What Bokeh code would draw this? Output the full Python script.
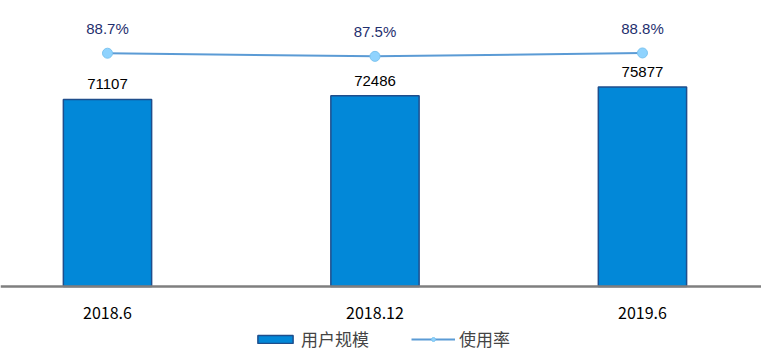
from bokeh.plotting import figure
from bokeh.models import Range1d, ColumnDataSource, Legend, LegendItem
from bokeh.core.properties import value
from bokeh.embed import file_html
from bokeh.resources import INLINE

categories = ["2018.6", "2018.12", "2019.6"]
users = [71107, 72486, 75877]
usage_rate = [88.7, 87.5, 88.8]
user_labels = ["71107", "72486", "75877"]
rate_labels = ["88.7%", "87.5%", "88.8%"]

xs = list(range(len(categories)))
src = ColumnDataSource(dict(x=xs, users=users, rate=usage_rate,
                            ul=user_labels, rl=rate_labels))

p = figure(width=761, height=353, output_backend="svg",
           toolbar_location=None,
           x_range=Range1d(-0.4, 2.445), y_range=Range1d(-25475, 108745),
           min_border_left=0, min_border_right=0, min_border_top=0,
           min_border_bottom=0, outline_line_color=None)
p.extra_y_ranges = {"pct": Range1d(-25.475, 108.745)}
p.grid.visible = False
p.yaxis.visible = False

ax = p.xaxis[0]
ax.fixed_location = 0
ax.ticker = xs
ax.major_label_overrides = {i: c for i, c in enumerate(categories)}
ax.axis_line_color = "#7f7f7f"
ax.axis_line_width = 2.5
ax.major_tick_line_color = None
ax.minor_tick_line_color = None
ax.major_label_standoff = 14
ax.major_label_text_font = "Noto Sans CJK SC"
ax.major_label_text_font_size = "16px"
ax.major_label_text_color = "#000000"

bars = p.vbar(x="x", top="users", width=0.33, source=src,
              fill_color="#0288d8", line_color="#1f4e8c", line_width=1.5)
p.text(x="x", y="users", text="ul", source=src, y_offset=-10,
       text_align="center", text_baseline="bottom",
       text_font=value("Liberation Sans"), text_font_size="15px",
       text_color="#000000")

ln = p.line(x="x", y="rate", source=src, y_range_name="pct",
            line_color="#5b9bd5", line_width=2)
pts = p.scatter(x="x", y="rate", source=src, y_range_name="pct", size=10,
                fill_color="#8fd3fe", line_color="#7cc4f0", line_width=1)
p.text(x="x", y="rate", text="rl", source=src, y_range_name="pct",
       y_offset=-16, text_align="center", text_baseline="bottom",
       text_font=value("Liberation Sans"), text_font_size="15px",
       text_color="#1f2f6e")

legend = Legend(items=[LegendItem(label="用户规模", renderers=[bars]),
                       LegendItem(label="使用率", renderers=[ln, pts])],
                orientation="horizontal", location=(253, 2),
                border_line_color=None, background_fill_alpha=0,
                label_text_font="Noto Sans CJK SC", label_text_font_size="17px",
                glyph_width=44, glyph_height=10, label_height=20,
                label_standoff=4, spacing=42, padding=2, margin=0)
p.add_layout(legend, "center")

open("out.html", "w").write(file_html(p, INLINE))
